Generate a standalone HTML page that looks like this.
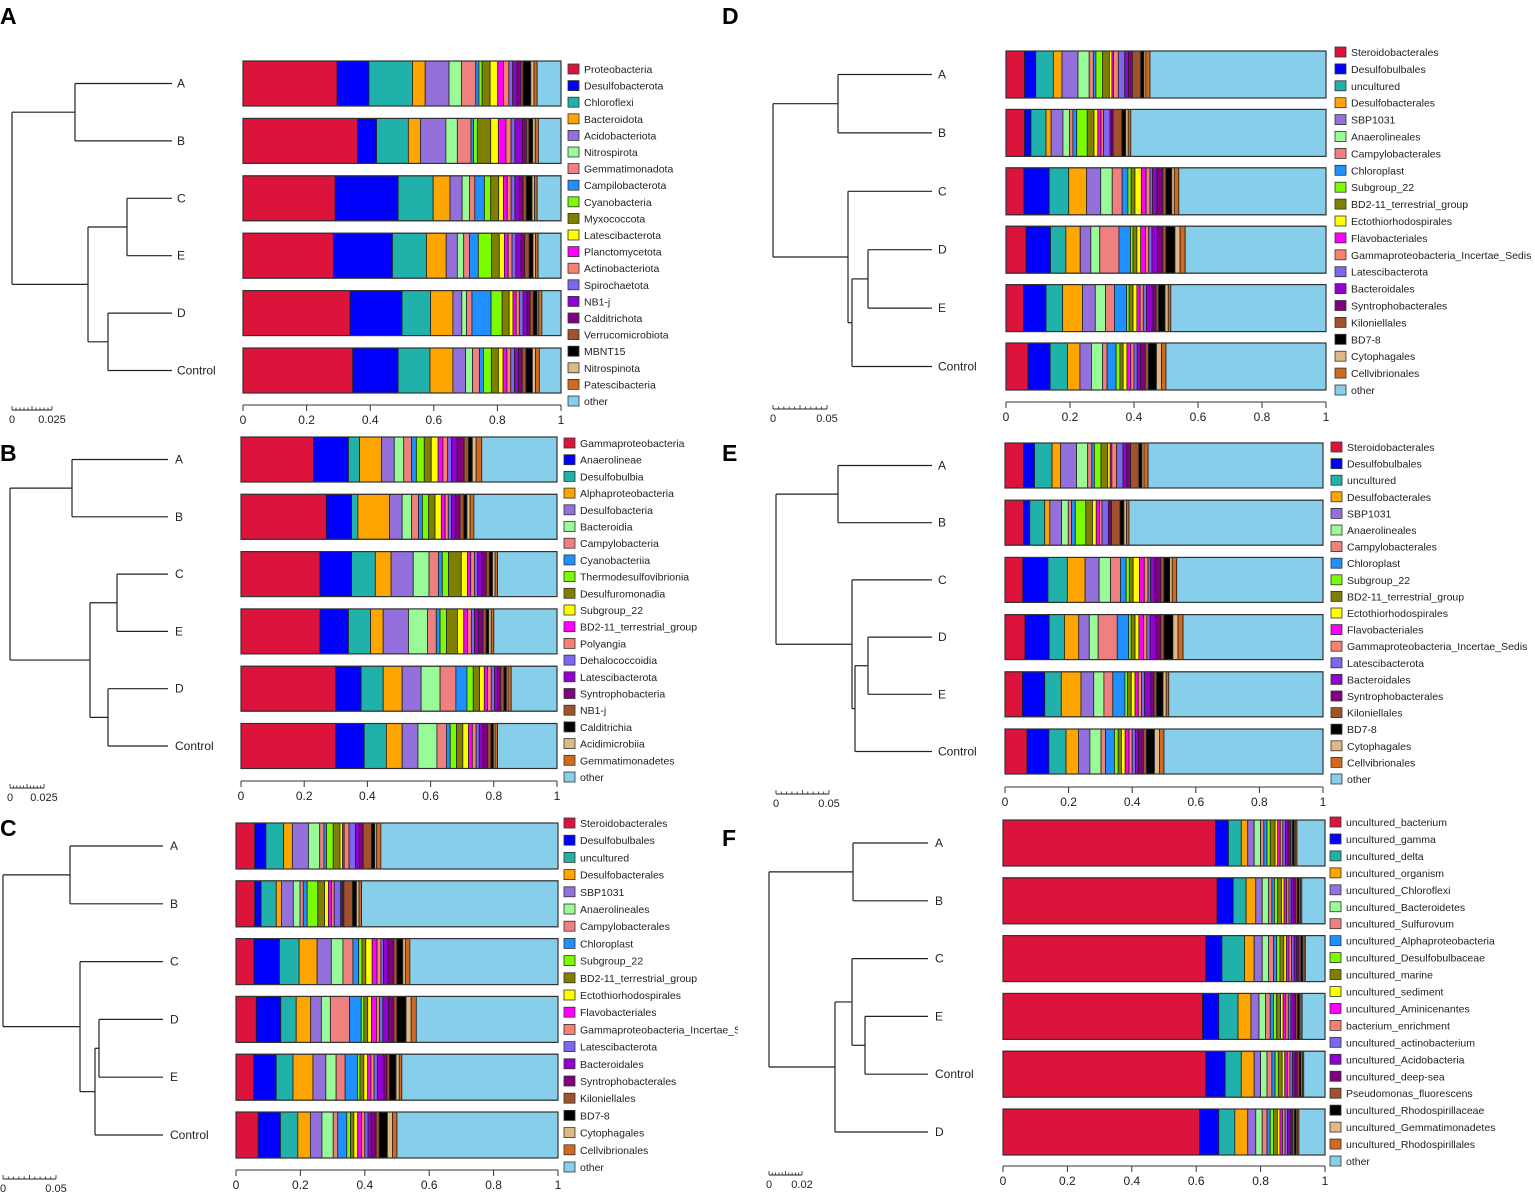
<!DOCTYPE html>
<html><head><meta charset="utf-8">
<style>
html,body{margin:0;padding:0;background:#fff;}
svg{display:block;font-family:"Liberation Sans",Arial,sans-serif;}
</style></head>
<body>
<svg id="fig" width="1535" height="1197" viewBox="0 0 1535 1197">
<defs><clipPath id="clipC"><rect x="560" y="810" width="178" height="380"/></clipPath></defs>
</svg>
<script>
const colors=["#dc143c","#0000ff","#20b2aa","#ffa500","#9370db","#98fb98","#f08080","#1e90ff","#7cfc00","#808000","#ffff00","#ff00ff","#fa8072","#7b68ee","#9400d3","#800080","#a0522d","#000000","#deb887","#d2691e","#87ceeb"];

const taxaA=["Proteobacteria","Desulfobacterota","Chloroflexi","Bacteroidota","Acidobacteriota","Nitrospirota","Gemmatimonadota","Campilobacterota","Cyanobacteria","Myxococcota","Latescibacterota","Planctomycetota","Actinobacteriota","Spirochaetota","NB1-j","Calditrichota","Verrucomicrobiota","MBNT15","Nitrospinota","Patescibacteria","other"];
const taxaB=["Gammaproteobacteria","Anaerolineae","Desulfobulbia","Alphaproteobacteria","Desulfobacteria","Bacteroidia","Campylobacteria","Cyanobacteriia","Thermodesulfovibrionia","Desulfuromonadia","Subgroup_22","BD2-11_terrestrial_group","Polyangia","Dehalococcoidia","Latescibacterota","Syntrophobacteria","NB1-j","Calditrichia","Acidimicrobiia","Gemmatimonadetes","other"];
const taxaOrder=["Steroidobacterales","Desulfobulbales","uncultured","Desulfobacterales","SBP1031","Anaerolineales","Campylobacterales","Chloroplast","Subgroup_22","BD2-11_terrestrial_group","Ectothiorhodospirales","Flavobacteriales","Gammaproteobacteria_Incertae_Sedis","Latescibacterota","Bacteroidales","Syntrophobacterales","Kiloniellales","BD7-8","Cytophagales","Cellvibrionales","other"];
const taxaF=["uncultured_bacterium","uncultured_gamma","uncultured_delta","uncultured_organism","uncultured_Chloroflexi","uncultured_Bacteroidetes","uncultured_Sulfurovum","uncultured_Alphaproteobacteria","uncultured_Desulfobulbaceae","uncultured_marine","uncultured_sediment","uncultured_Aminicenantes","bacterium_enrichment","uncultured_actinobacterium","uncultured_Acidobacteria","uncultured_deep-sea","Pseudomonas_fluorescens","uncultured_Rhodospirillaceae","uncultured_Gemmatimonadetes","uncultured_Rhodospirillales","other"];

// values per row (top to bottom); "other" = remainder
const rowsA=["A","B","C","E","D","Control"];
const valsA=[
[.296,.10,.137,.04,.075,.039,.045,.01,.01,.025,.024,.018,.017,.012,.014,.012,.007,.024,.01,.01],
[.36,.06,.10,.038,.08,.036,.043,.008,.012,.042,.024,.024,.016,.012,.024,.012,.008,.012,.008,.01],
[.29,.198,.11,.053,.038,.023,.017,.03,.02,.025,.015,.012,.012,.012,.014,.012,.01,.018,.008,.008],
[.285,.185,.107,.062,.035,.02,.018,.028,.042,.024,.016,.012,.012,.012,.016,.012,.014,.012,.008,.008],
[.337,.163,.09,.07,.028,.015,.017,.06,.035,.022,.012,.01,.01,.012,.012,.01,.01,.012,.005,.01],
[.345,.143,.1,.072,.04,.022,.022,.012,.025,.022,.015,.012,.012,.012,.012,.012,.012,.02,.01,.012]];
const rowsB=["A","B","C","E","D","Control"];
const valsB=[
[.23,.11,.035,.07,.04,.03,.025,.015,.025,.022,.022,.015,.015,.012,.018,.022,.014,.012,.012,.018],
[.27,.08,.02,.1,.04,.03,.022,.012,.02,.02,.02,.012,.01,.01,.012,.015,.012,.01,.01,.012],
[.25,.1,.075,.05,.07,.05,.03,.012,.02,.04,.02,.01,.012,.01,.012,.015,.01,.01,.008,.008],
[.25,.09,.07,.04,.08,.06,.028,.012,.02,.035,.02,.012,.012,.01,.012,.015,.01,.008,.008,.008],
[.3,.08,.07,.06,.06,.06,.05,.035,.02,.02,.015,.01,.012,.01,.01,.01,.01,.008,.005,.01],
[.3,.09,.07,.05,.05,.06,.03,.012,.02,.02,.018,.012,.012,.01,.012,.015,.01,.008,.005,.008]];
const rowsC=["A","B","C","D","E","Control"];
const valsC=[
[.058,.035,.055,.027,.05,.035,.013,.008,.021,.021,.008,.005,.015,.02,.012,.012,.026,.01,.006,.013],
[.058,.02,.047,.016,.037,.021,.01,.012,.033,.021,.012,.01,.008,.02,.005,.005,.027,.012,.008,.008],
[.056,.079,.061,.056,.044,.036,.031,.018,.01,.012,.02,.015,.012,.008,.014,.018,.01,.018,.008,.014],
[.063,.076,.048,.045,.033,.028,.06,.036,.008,.012,.012,.015,.01,.01,.018,.016,.01,.028,.016,.016],
[.055,.07,.052,.062,.04,.032,.028,.038,.008,.012,.012,.01,.01,.01,.02,.01,.008,.02,.01,.008],
[.069,.069,.054,.039,.036,.035,.014,.028,.012,.01,.012,.012,.01,.01,.01,.015,.01,.025,.016,.014]];
const rowsD=["A","B","C","D","E","Control"];
const valsD=valsC;
const rowsE=["A","B","C","D","E","Control"];
const valsE=valsC;
const rowsF=["A","B","C","E","Control","D"];
const valsF=[
[.66,.04,.04,.02,.02,.02,.01,.01,.01,.015,.008,.008,.008,.008,.008,.008,.006,.006,.004,.004],
[.665,.05,.04,.03,.02,.02,.01,.008,.01,.012,.008,.008,.007,.007,.007,.006,.006,.006,.004,.004],
[.63,.05,.07,.03,.025,.02,.015,.01,.01,.012,.008,.008,.008,.008,.008,.007,.006,.006,.004,.004],
[.62,.05,.06,.04,.025,.02,.015,.01,.01,.012,.008,.008,.008,.008,.008,.007,.006,.006,.004,.004],
[.63,.06,.05,.04,.02,.02,.015,.01,.01,.012,.008,.008,.008,.008,.008,.007,.006,.006,.004,.004],
[.61,.06,.05,.04,.025,.02,.015,.01,.01,.012,.008,.008,.008,.008,.008,.007,.006,.006,.004,.004]];
const ticks=[0,0.2,0.4,0.6,0.8,1];

const svg=document.getElementById('fig');
const NS="http://www.w3.org/2000/svg";
function mk(tag,attrs,parent){const e=document.createElementNS(NS,tag);for(const k in attrs)e.setAttribute(k,attrs[k]);(parent||svg).appendChild(e);return e;}

const panels=[
{id:"a",letter:"A",lx:0,ly:24,taxa:taxaA,rows:rowsA,vals:valsA,bx:243,bw:318,top:61,step:57.4,bh:45,axisY:405,legX:568,legY:69,legStep:16.6,leafEnd:172,labX:177,
 scale:{x0:12,x1:52,y:410,lab:"0.025"},
 tree:{x:12,c:[{x:75,c:[0,1]},{x:88,c:[{x:127,c:[2,3]},{x:108,c:[4,5]}]}]}},
{id:"b",letter:"B",lx:0,ly:461,taxa:taxaB,rows:rowsB,vals:valsB,bx:241,bw:316,top:437,step:57.3,bh:45,axisY:781,legX:564,legY:443,legStep:16.7,leafEnd:168,labX:175,
 scale:{x0:10,x1:44,y:788,lab:"0.025"},
 tree:{x:10,c:[{x:72,c:[0,1]},{x:90,c:[{x:117,c:[2,3]},{x:108,c:[4,5]}]}]}},
{id:"c",letter:"C",lx:0,ly:836,taxa:taxaOrder,rows:rowsC,vals:valsC,bx:236,bw:322,top:823,step:57.8,bh:46,axisY:1170,legX:564,legY:823,legStep:17.2,leafEnd:163,labX:170,clip:true,
 scale:{x0:3,x1:56,y:1179,lab:"0.05"},
 tree:{x:3,c:[{x:70,c:[0,1]},{x:80,c:[2,{x:95,c:[{x:99,c:[3,4]},5]}]}]}},
{id:"d",letter:"D",lx:722,ly:24,taxa:taxaOrder,rows:rowsD,vals:valsD,bx:1006,bw:320,top:51,step:58.4,bh:47,axisY:402,legX:1335,legY:52,legStep:16.9,leafEnd:932,labX:938,
 scale:{x0:773,x1:827,y:409,lab:"0.05"},
 tree:{x:773,c:[{x:838,c:[0,1]},{x:848,c:[2,{x:852,c:[{x:868,c:[3,4]},5]}]}]}},
{id:"e",letter:"E",lx:722,ly:461,taxa:taxaOrder,rows:rowsE,vals:valsE,bx:1005,bw:318,top:443,step:57.2,bh:45,axisY:787,legX:1331,legY:447,legStep:16.6,leafEnd:932,labX:938,
 scale:{x0:776,x1:829,y:794,lab:"0.05"},
 tree:{x:776,c:[{x:838,c:[0,1]},{x:852,c:[2,{x:855,c:[{x:868,c:[3,4]},5]}]}]}},
{id:"f",letter:"F",lx:722,ly:846,taxa:taxaF,rows:rowsF,vals:valsF,bx:1003,bw:322,top:820,step:57.8,bh:46,axisY:1166,legX:1330,legY:822,legStep:16.95,leafEnd:928,labX:935,
 scale:{x0:769,x1:802,y:1175,lab:"0.02"},
 tree:{x:769,c:[{x:853,c:[0,1]},{x:835,c:[{x:852,c:[2,{x:865,c:[3,4]}]},5]}]}}
];

panels.forEach(p=>{
  const g=mk('g',{});
  
  
  const L=mk('text',{x:p.lx,y:p.ly,'font-size':23,'font-weight':'bold',fill:'#000'},g);
  L.textContent=p.letter;
  
  
  const xs=v=>p.bx+v*p.bw;
  const rowY=i=>p.top+i*p.step;
  p.vals.forEach((row,i)=>{
    const rg=mk('g',{},g);
    
    
    let acc=0;
    const all=row.concat([Math.max(0,1-row.reduce((a,b)=>a+b,0))]);
    all.forEach((v,k)=>{
      const r=mk('rect',{x:xs(acc),y:rowY(i),width:Math.max(0,xs(acc+v)-xs(acc)),height:p.bh,fill:colors[k],stroke:'#222','stroke-width':0.8},rg);
      
      
      acc+=v;
    });
    mk('rect',{x:p.bx,y:rowY(i),width:p.bw,height:p.bh,fill:'none',stroke:'#333','stroke-width':1.2},rg);
  });
  const ax=mk('g',{},g);
  
  
  mk('line',{x1:xs(0),x2:xs(1),y1:p.axisY,y2:p.axisY,stroke:'#333','stroke-width':1},ax);
  ticks.forEach(t=>{
    mk('line',{x1:xs(t),x2:xs(t),y1:p.axisY,y2:p.axisY+6,stroke:'#333','stroke-width':1},ax);
    const tx=mk('text',{x:xs(t),y:p.axisY+19,'font-size':12,'text-anchor':'middle',fill:'#222'},ax);
    tx.textContent=String(t);
    
    
  });
  const lg=mk('g',p.clip?{'clip-path':'url(#clipC)'}:{},g);
  
  
  p.taxa.forEach((t,k)=>{
    const y=p.legY+k*p.legStep;
    const e=mk('g',{},lg);
    
    
    mk('rect',{x:p.legX,y:y-5,width:11,height:10,fill:colors[k],stroke:'#333','stroke-width':0.8},e);
    const tx=mk('text',{x:p.legX+16,y:y+4,'font-size':10.5,fill:'#222'},e);
    tx.textContent=t;
  });
  const dg=mk('g',{},g);
  
  
  const cy=i=>rowY(i)+p.bh/2;
  function draw(n){
    if(typeof n==='number') return {y:cy(n),x:p.leafEnd};
    const ch=n.c.map(draw);
    const ys=ch.map(c=>c.y);
    mk('line',{x1:n.x,x2:n.x,y1:Math.min(...ys),y2:Math.max(...ys),stroke:'#222','stroke-width':1.2},dg);
    ch.forEach(c=>mk('line',{x1:n.x,x2:c.x,y1:c.y,y2:c.y,stroke:'#222','stroke-width':1.2},dg));
    return {y:(Math.min(...ys)+Math.max(...ys))/2,x:n.x};
  }
  draw(p.tree);
  p.rows.forEach((r,i)=>{
    const tx=mk('text',{x:p.labX,y:cy(i)+4,'font-size':12,fill:'#222'},dg);
    tx.textContent=r;
    
    
  });
  const sg=mk('g',{},g);
  
  
  const s=p.scale;
  mk('line',{x1:s.x0,x2:s.x1,y1:s.y,y2:s.y,stroke:'#222','stroke-width':1},sg);
  for(let k=0;k<=10;k++){const x=s.x0+(s.x1-s.x0)*k/10;mk('line',{x1:x,x2:x,y1:s.y-(k%5===0?4:2.5),y2:s.y,stroke:'#222','stroke-width':0.8},sg);}
  const t0=mk('text',{x:s.x0,y:s.y+13,'font-size':11,'text-anchor':'middle',fill:'#222'},sg);t0.textContent="0";
  const t1=mk('text',{x:s.x1,y:s.y+13,'font-size':11,'text-anchor':'middle',fill:'#222'},sg);t1.textContent=s.lab;
});
</script>
</body></html>
